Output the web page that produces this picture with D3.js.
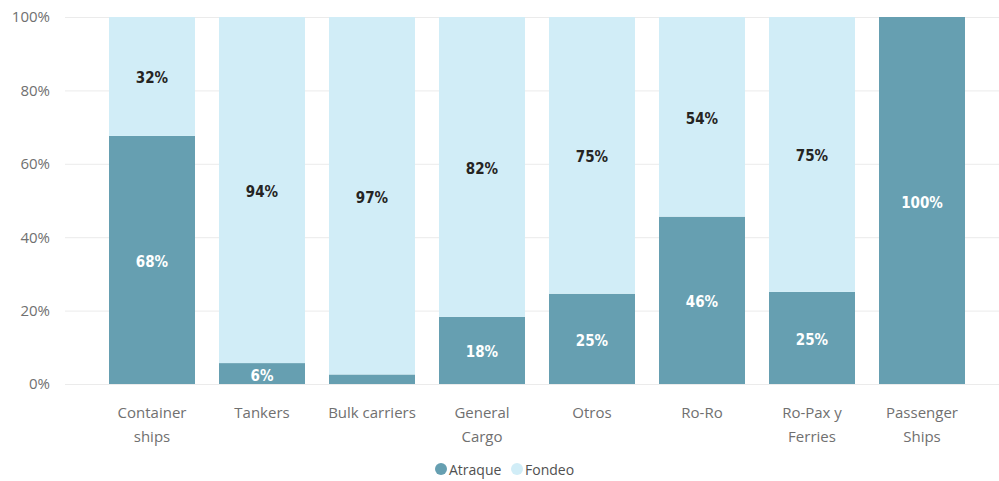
<!DOCTYPE html>
<html><head><meta charset="utf-8">
<script src="https://cdn.jsdelivr.net/npm/d3@7"></script>
<style>body{margin:0;background:#fff}svg{display:block}</style>
</head><body>
<svg id="c" width="999" height="481"></svg>
<script>
const categories = [["Container","ships"],["Tankers"],["Bulk carriers"],["General","Cargo"],["Otros"],["Ro-Ro"],["Ro-Pax y","Ferries"],["Passenger","Ships"]];
const atraque = [67.6, 5.7, 2.6, 18.3, 24.6, 45.6, 25.1, 100];
const fondeo = [32.4, 94.3, 97.4, 81.7, 75.4, 54.4, 74.9, 0];
const seriesNames = ["Atraque","Fondeo"];
const colors = ["#669FB1","#D1EDF7"];
const yTicks = [0,20,40,60,80,100];

const svg = d3.select("#c");
const x = d3.scaleBand().domain(d3.range(categories.length)).range([97,977]).paddingInner(24/110).paddingOuter(12/110);
const y = d3.scaleLinear().domain([0,100]).range([384,17]);

svg.append("g").selectAll("line").data(yTicks).join("line")
  .attr("x1",65).attr("x2",999).attr("y1",d=>y(d)+0.5).attr("y2",d=>y(d)+0.5)
  .attr("stroke","#EBEBEB").attr("stroke-width",1);

const yAxis = d3.axisLeft(y).tickValues(yTicks).tickFormat(d=>d+"%").tickSize(0).tickPadding(0);
const ya = svg.append("g").attr("transform","translate(50,0)").call(yAxis);
ya.select(".domain").remove();
ya.selectAll("text").attr("font-family","'Open Sans', sans-serif").attr("font-size",15).attr("fill","#707070");

const data = categories.map((c,i)=>({i, a:atraque[i], f:fondeo[i]}));
const segs = [];
data.forEach(d=>{
  segs.push({i:d.i, s:0, y0:0, y1:d.a, v:d.a});
  segs.push({i:d.i, s:1, y0:d.a, y1:d.a+d.f, v:d.f});
});
svg.append("g").selectAll("rect").data(segs.filter(d=>d.v>0)).join("rect")
  .attr("x",d=>x(d.i)).attr("width",x.bandwidth())
  .attr("y",d=>y(d.y1)).attr("height",d=>y(d.y0)-y(d.y1))
  .attr("fill",d=>colors[d.s]);

svg.append("g").selectAll("text").data(segs.filter(d=>(y(d.y0)-y(d.y1))>=16)).join("text")
  .attr("x",d=>x(d.i)+x.bandwidth()/2).attr("y",d=>(y(d.y0)+y(d.y1))/2+2)
  .attr("text-anchor","middle").attr("dominant-baseline","central")
  .attr("font-family","'DejaVu Sans Condensed', 'DejaVu Sans', sans-serif").attr("font-weight","bold").attr("font-size",15)
  .attr("fill",d=>d.s===0?"#FFFFFF":"#252423")
  .text(d=>Math.round(d.v)+"%");

const xl = svg.append("g").selectAll("text").data(categories).join("text")
  .attr("x",(d,i)=>x(i)+x.bandwidth()/2).attr("y",418)
  .attr("text-anchor","middle").attr("font-family","'Open Sans', sans-serif").attr("font-size",15).attr("fill","#707070");
xl.selectAll("tspan").data(d=>d).join("tspan")
  .attr("x",function(){return this.parentNode.getAttribute("x");})
  .attr("dy",(d,j)=>j===0?0:24).text(d=>d);

const lg = svg.append("g");
const lx = [441,517];
seriesNames.forEach((n,i)=>{
  lg.append("circle").attr("cx",lx[i]).attr("cy",469).attr("r",6).attr("fill",colors[i]);
  lg.append("text").attr("x",lx[i]+8).attr("y",469).attr("dominant-baseline","central")
    .attr("font-family","'Open Sans', sans-serif").attr("font-size",14).attr("fill","#505050").text(n);
});
</script>
</body></html>
